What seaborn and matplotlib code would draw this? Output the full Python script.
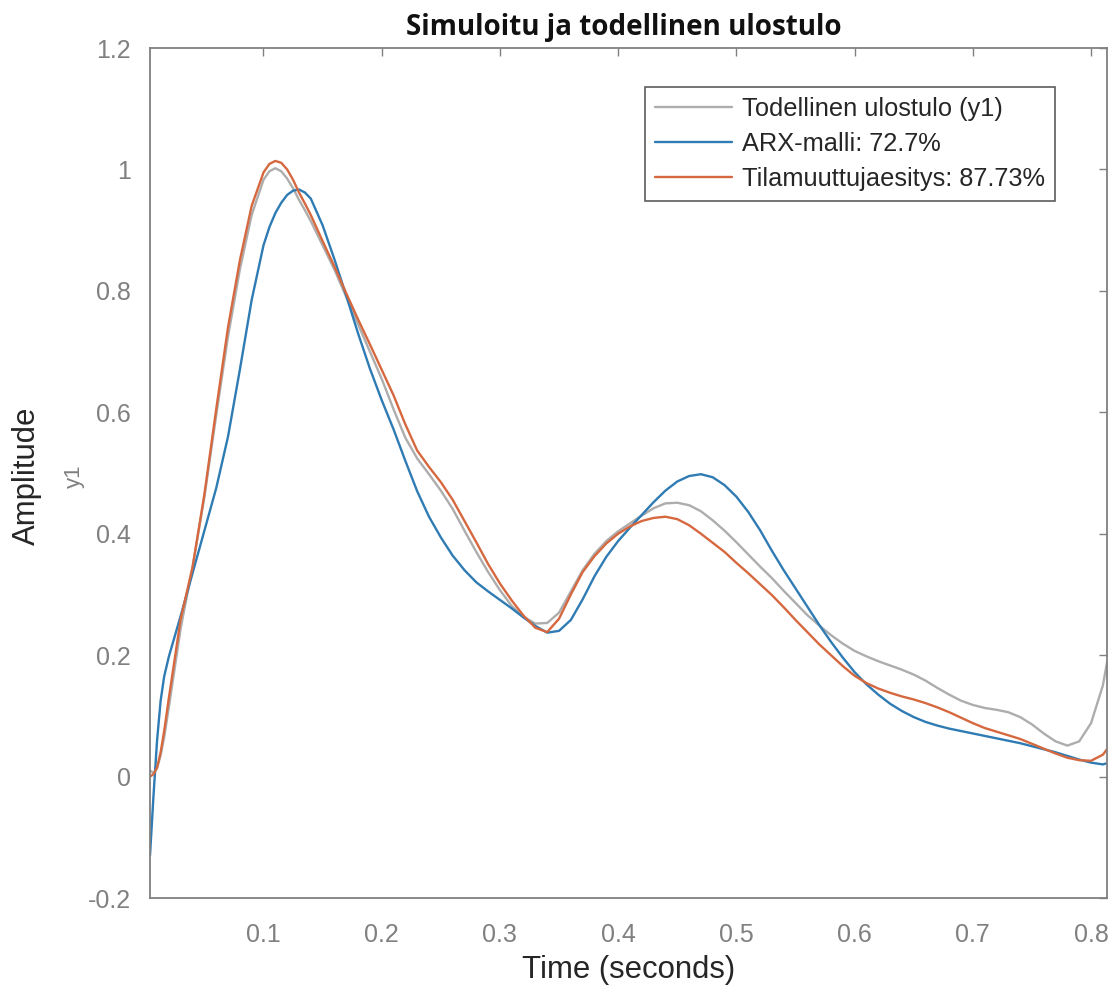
import numpy as np
import pandas as pd
import matplotlib
matplotlib.use("Agg")
import matplotlib.pyplot as plt
import seaborn as sns

# ---------------- data ----------------
time_s = [0.004, 0.007, 0.010, 0.013, 0.016, 0.020,
          0.03, 0.04, 0.05, 0.06, 0.07, 0.08, 0.09, 0.10, 0.105, 0.11, 0.115,
          0.12, 0.125, 0.13, 0.135, 0.14, 0.15, 0.16, 0.17, 0.18, 0.19, 0.20,
          0.21, 0.22, 0.23, 0.24, 0.25, 0.26, 0.27, 0.28, 0.29, 0.30, 0.31,
          0.32, 0.33, 0.34, 0.35, 0.36, 0.37, 0.38, 0.39, 0.40, 0.41, 0.42,
          0.43, 0.44, 0.45, 0.46, 0.47, 0.48, 0.49, 0.50, 0.51, 0.52,
          0.53, 0.54, 0.55, 0.56, 0.57, 0.58, 0.59, 0.60, 0.61, 0.62,
          0.63, 0.64, 0.65, 0.66, 0.67, 0.68, 0.69, 0.70, 0.71, 0.72,
          0.73, 0.74, 0.75, 0.76, 0.77, 0.78, 0.79, 0.80, 0.81, 0.8135]

y_true = [0.010, 0.006, 0.014, 0.035, 0.065, 0.115,
          0.245, 0.345, 0.460, 0.595, 0.725, 0.835, 0.925, 0.983, 0.997, 1.002, 0.997,
          0.985, 0.969, 0.950, 0.933, 0.915, 0.875, 0.835, 0.790, 0.745, 0.700, 0.655,
          0.605, 0.558, 0.524, 0.498, 0.471, 0.441, 0.405, 0.370, 0.337, 0.307, 0.281,
          0.263, 0.252, 0.253, 0.270, 0.305, 0.340, 0.367, 0.388, 0.404, 0.417, 0.430,
          0.442, 0.450, 0.451, 0.447, 0.437, 0.422, 0.405, 0.386, 0.366, 0.346,
          0.327, 0.306, 0.286, 0.266, 0.249, 0.233, 0.219, 0.207, 0.198, 0.190,
          0.183, 0.176, 0.168, 0.158, 0.146, 0.135, 0.125, 0.118, 0.113, 0.110,
          0.106, 0.098, 0.086, 0.071, 0.058, 0.051, 0.058, 0.088, 0.150, 0.188]

y_arx = [-0.130, -0.030, 0.060, 0.125, 0.165, 0.198,
         0.265, 0.335, 0.405, 0.475, 0.560, 0.670, 0.785, 0.875, 0.905, 0.928, 0.945,
         0.958, 0.965, 0.967, 0.962, 0.952, 0.908, 0.852, 0.792, 0.730, 0.672, 0.620,
         0.572, 0.520, 0.470, 0.428, 0.394, 0.364, 0.340, 0.320, 0.305, 0.291, 0.277,
         0.262, 0.248, 0.237, 0.240, 0.258, 0.292, 0.330, 0.362, 0.388, 0.410, 0.431,
         0.452, 0.471, 0.486, 0.495, 0.498, 0.493, 0.480, 0.461, 0.436, 0.406,
         0.372, 0.340, 0.310, 0.280, 0.250, 0.222, 0.196, 0.172, 0.152, 0.135,
         0.120, 0.108, 0.098, 0.090, 0.084, 0.079, 0.075, 0.071, 0.067, 0.063,
         0.059, 0.055, 0.050, 0.045, 0.040, 0.034, 0.028, 0.023, 0.020, 0.022]

y_ss = [0.000, 0.004, 0.015, 0.040, 0.075, 0.130,
        0.260, 0.345, 0.465, 0.605, 0.740, 0.850, 0.940, 0.995, 1.009, 1.014, 1.011,
        1.000, 0.983, 0.962, 0.944, 0.925, 0.882, 0.840, 0.796, 0.753, 0.712, 0.670,
        0.628, 0.580, 0.537, 0.510, 0.485, 0.456, 0.421, 0.386, 0.350, 0.318, 0.290,
        0.265, 0.245, 0.238, 0.260, 0.300, 0.337, 0.363, 0.384, 0.400, 0.412, 0.421,
        0.426, 0.428, 0.424, 0.414, 0.400, 0.385, 0.370, 0.352, 0.335, 0.317,
        0.299, 0.279, 0.258, 0.238, 0.218, 0.200, 0.182, 0.166, 0.154, 0.145,
        0.138, 0.132, 0.127, 0.121, 0.114, 0.106, 0.097, 0.088, 0.080, 0.074,
        0.068, 0.062, 0.054, 0.046, 0.038, 0.031, 0.027, 0.026, 0.036, 0.045]

series_labels = ["Todellinen ulostulo (y1)", "ARX-malli: 72.7%", "Tilamuuttujaesitys: 87.73%"]
x_ticks = [0.1, 0.2, 0.3, 0.4, 0.5, 0.6, 0.7, 0.8]
x_tick_labels = ["0.1", "0.2", "0.3", "0.4", "0.5", "0.6", "0.7", "0.8"]
y_ticks = [-0.2, 0.0, 0.2, 0.4, 0.6, 0.8, 1.0, 1.2]
y_tick_labels = ["-0.2", "0", "0.2", "0.4", "0.6", "0.8", "1", "1.2"]

# ---------------- style ----------------
sns.set_style("white")
plt.rcParams["font.family"] = ["Liberation Sans", "DejaVu Sans"]

colors = ["#adadad", "#2f7bb3", "#d6683f"]
axis_gray = "#808080"

fig = plt.figure(figsize=(11.19, 9.85), dpi=100)
ax = fig.add_axes([150 / 1119, 1 - 898 / 985, (1107 - 150) / 1119, (898 - 48) / 985])

for ys, lab, col in zip([y_true, y_arx, y_ss], series_labels, colors):
    sns.lineplot(x=time_s, y=ys, ax=ax, color=col, linewidth=1.7,
                 label=lab, estimator=None, sort=False)

ax.set_xlim(0.004, 0.8135)
ax.set_ylim(-0.2, 1.2)
ax.set_xticks(x_ticks)
ax.set_xticklabels(x_tick_labels)
ax.set_yticks(y_ticks)
ax.set_yticklabels(y_tick_labels)

ax.tick_params(axis="both", direction="in", length=6, width=1.0,
               colors=axis_gray, labelsize=18, top=True, right=True)
ax.tick_params(axis="x", pad=18)
ax.tick_params(axis="y", pad=14)
for sp in ax.spines.values():
    sp.set_visible(True)
    sp.set_color(axis_gray)
    sp.set_linewidth(1.3)

ax.set_xlabel("Time (seconds)", fontsize=22.4, color="#262626", labelpad=6)
ax.set_ylabel("")

fig.text(27 / 1119, 1 - 476 / 985, "Amplitude", rotation=90, fontsize=22.4,
         color="#262626", ha="center", va="center")
fig.text(74 / 1119, 1 - 476 / 985, "y1", rotation=90, fontsize=16,
         color=axis_gray, ha="center", va="center")

fig.text(624 / 1119, 1 - 27 / 985, "Simuloitu ja todellinen ulostulo",
         fontsize=20, fontweight="bold", family=["Open Sans", "DejaVu Sans"],
         color="#111111", ha="center", va="center")

leg = ax.legend(loc="upper right", bbox_to_anchor=((1055 - 150) / 957, (898 - 87) / 850),
                borderaxespad=0, frameon=True, fancybox=False, shadow=False,
                fontsize=18.3, handlelength=3.0, handletextpad=0.4,
                labelspacing=0.42, borderpad=0.4)
leg.get_frame().set_edgecolor("#333333")
leg.get_frame().set_linewidth(1.2)
for txt in leg.get_texts():
    txt.set_color("#262626")

fig.savefig("out.png", dpi=100)
